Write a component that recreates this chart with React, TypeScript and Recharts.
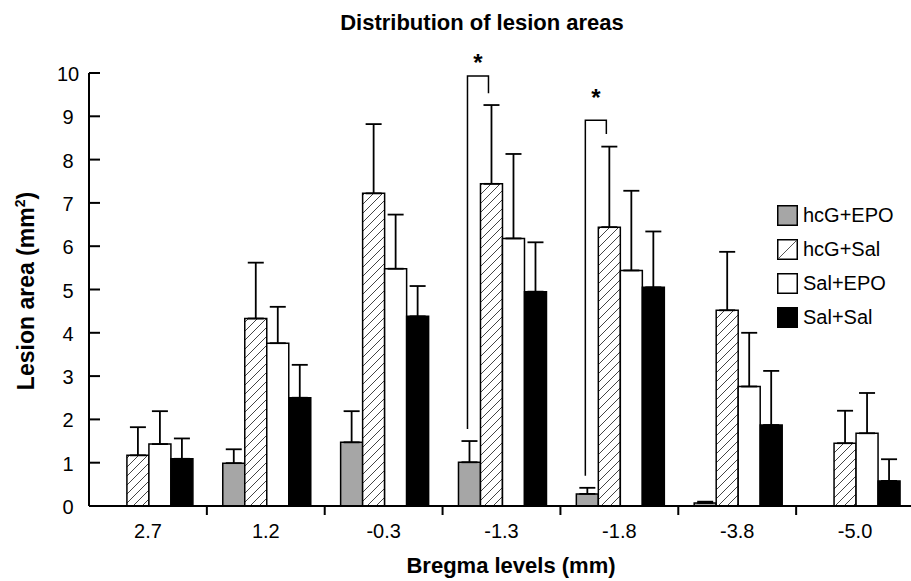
import React from "react";
import { BarChart, Bar, XAxis, YAxis, ErrorBar, Legend, LabelList } from "recharts";

// ---------- data ----------
const categories = ["2.7", "1.2", "-0.3", "-1.3", "-1.8", "-3.8", "-5.0"];
const hcgEpo = [0, 0.99, 1.47, 1.01, 0.28, 0.07, 0];
const hcgEpoErr = [0, 0.32, 0.72, 0.49, 0.14, 0.03, 0];
const hcgSal = [1.17, 4.33, 7.22, 7.44, 6.44, 4.52, 1.45];
const hcgSalErr = [0.65, 1.29, 1.6, 1.82, 1.86, 1.35, 0.75];
const salEpo = [1.43, 3.76, 5.48, 6.18, 5.44, 2.76, 1.68];
const salEpoErr = [0.76, 0.84, 1.25, 1.95, 1.84, 1.24, 0.93];
const salSal = [1.09, 2.5, 4.38, 4.95, 5.05, 1.87, 0.58];
const salSalErr = [0.47, 0.76, 0.7, 1.14, 1.29, 1.25, 0.5];
const yTicks = [0, 1, 2, 3, 4, 5, 6, 7, 8, 9, 10];

// significance brackets (hcG+EPO vs hcG+Sal)
const sigTop: (number | null)[] = [null, null, null, 9.93, 8.91, null, null];
const sigLeftBottom: (number | null)[] = [null, null, null, 1.78, 0.7, null, null];
const sigRightBottom: (number | null)[] = [null, null, null, 9.53, 8.59, null, null];
const sigStar: (number | null)[] = [null, null, null, 10.32, 9.51, null, null];

const DATA = categories.map((cat, i) => ({
  cat,
  hcgEpo: hcgEpo[i],
  hcgEpoE: [0, hcgEpoErr[i]],
  hcgSal: hcgSal[i],
  hcgSalE: [0, hcgSalErr[i]],
  salEpo: salEpo[i],
  salEpoE: [0, salEpoErr[i]],
  salSal: salSal[i],
  salSalE: [0, salSalErr[i]],
  sigTop: sigTop[i],
}));

// ---------- layout / style ----------
const CHART_W = 915;
const CHART_H = 581;
const MARGIN = { top: 73, right: 1, bottom: 15, left: 0 };
const Y_AXIS_W = 89;
const X_AXIS_H = 60;
const CAT_W = (CHART_W - MARGIN.left - MARGIN.right - Y_AXIS_W) / categories.length;
const FONT = '"Liberation Sans", Arial, Helvetica, sans-serif';

const SERIES = [
  { key: "hcgEpo", err: "hcgEpoE", name: "hcG+EPO", fill: "#a6a6a6", kind: "grey" },
  { key: "hcgSal", err: "hcgSalE", name: "hcG+Sal", fill: "url(#hatch)", kind: "hatch" },
  { key: "salEpo", err: "salEpoE", name: "Sal+EPO", fill: "#ffffff", kind: "white" },
  { key: "salSal", err: "salSalE", name: "Sal+Sal", fill: "#000000", kind: "black" },
];

const YTick = (props: any) => {
  const { x, y, payload } = props;
  return (
    <g>
      <line x1={x} y1={y} x2={x + 11} y2={y} stroke="#000" strokeWidth={2} />
      <text x={x - 21} y={y} dy={8} textAnchor="middle" fontSize={20} fontFamily={FONT} fill="#000">
        {payload.value}
      </text>
    </g>
  );
};

const XTick = (props: any) => {
  const { x, y, payload, index } = props;
  const bx = x - CAT_W / 2;
  return (
    <g>
      {index > 0 && <line x1={bx} y1={y} x2={bx} y2={y + 9} stroke="#000" strokeWidth={2} />}
      <text x={x} y={y + 32} textAnchor="middle" fontSize={20} fontFamily={FONT} fill="#000">
        {payload.value}
      </text>
    </g>
  );
};

const BracketLabel = (props: any) => {
  const vb = props.viewBox ?? props;
  const x = vb.x ?? props.x;
  const y = vb.y ?? props.y;
  const w = vb.width ?? props.width;
  const h = vb.height ?? props.height;
  if (props.value == null) return null;
  const idx = sigTop.findIndex((v) => v != null && v === props.value);
  if (idx < 0) return null;
  const val = hcgEpo[idx];
  if (!val || !h) return null;
  const ppu = h / val;
  const base = y + h;
  const py = (v: number) => base - v * ppu;
  const xl = x + w / 2 - 2;
  const xr = x + w * 1.5 - 3;
  const top = py(sigTop[idx] as number);
  return (
    <g>
      <polyline
        points={`${xl},${py(sigLeftBottom[idx] as number)} ${xl},${top} ${xr},${top} ${xr},${py(
          sigRightBottom[idx] as number
        )}`}
        fill="none"
        stroke="#000"
        strokeWidth={1.5}
      />
      <text
        x={(xl + xr) / 2}
        y={py(sigStar[idx] as number) + 12}
        textAnchor="middle"
        fontSize={24}
        fontWeight="bold"
        fontFamily={FONT}
        fill="#000"
      >
        *
      </text>
    </g>
  );
};

const Swatch = ({ kind }: { kind: string }) => {
  const fill = kind === "grey" ? "#a6a6a6" : kind === "black" ? "#000" : "#fff";
  return (
    <svg width={21} height={21} style={{ display: "block" }}>
      <rect x={0.75} y={0.75} width={19.5} height={19.5} fill={fill} stroke="#000" strokeWidth={1.5} />
      {kind === "hatch" && <line x1={2} y1={19} x2={19} y2={2} stroke="#555" strokeWidth={1} />}
    </svg>
  );
};

const LegendContent = (props: any) => {
  const payload = [...(props.payload ?? [])].sort(
    (a: any, b: any) =>
      SERIES.findIndex((s) => s.key === a.dataKey) - SERIES.findIndex((s) => s.key === b.dataKey)
  );
  return (
    <div style={{ fontFamily: FONT, fontSize: 20, color: "#000" }}>
      {payload.map((p: any) => {
        const s = SERIES.find((q) => q.key === p.dataKey) ?? SERIES[0];
        return (
          <div key={s.key} style={{ display: "flex", alignItems: "flex-start", height: 34 }}>
            <Swatch kind={s.kind} />
            <span style={{ marginLeft: 5, lineHeight: "20px", whiteSpace: "nowrap" }}>{p.value}</span>
          </div>
        );
      })}
    </div>
  );
};

export default function App() {
  return (
    <div
      style={{
        position: "absolute",
        left: 0,
        top: 0,
        width: 911,
        height: 581,
        overflow: "hidden",
        background: "#fff",
        fontFamily: FONT,
      }}
    >
      <svg width={0} height={0} style={{ position: "absolute" }}>
        <defs>
          <pattern id="hatch" patternUnits="userSpaceOnUse" width={9} height={9}>
            <rect width={9} height={9} fill="#fff" />
            <path d="M0,9 L9,0 M-2,2 L2,-2 M7,11 L11,7" stroke="#444" strokeWidth={1} />
          </pattern>
        </defs>
      </svg>
      <BarChart
        width={CHART_W}
        height={CHART_H}
        data={DATA}
        margin={MARGIN}
        barCategoryGap="13.5%"
        barGap={0}
      >
        <XAxis
          dataKey="cat"
          height={X_AXIS_H}
          axisLine={{ stroke: "#000", strokeWidth: 2 }}
          tickLine={false}
          tickSize={0}
          tickMargin={0}
          tick={<XTick />}
          interval={0}
        />
        <YAxis
          type="number"
          width={Y_AXIS_W}
          domain={[0, 10]}
          ticks={yTicks}
          interval={0}
          axisLine={{ stroke: "#000", strokeWidth: 2 }}
          tickLine={false}
          tickSize={0}
          tickMargin={0}
          tick={<YTick />}
        />
        <Legend
          layout="vertical"
          align="center"
          verticalAlign="middle"
          itemSorter={null as any}
          content={<LegendContent />}
          wrapperStyle={{ left: 777, top: 205, width: 134, height: 140, margin: 0, padding: 0 }}
        />
        {SERIES.map((s) => (
          <Bar
            key={s.key}
            dataKey={s.key}
            name={s.name}
            fill={s.fill}
            stroke="#000"
            strokeWidth={1.5}
            isAnimationActive={false}
          >
            <ErrorBar dataKey={s.err} width={8} stroke="#000" strokeWidth={1.8} direction="y" isAnimationActive={false} />
            {s.key === "hcgEpo" && <LabelList dataKey="sigTop" content={<BracketLabel />} />}
          </Bar>
        ))}
      </BarChart>
      <svg
        width={911}
        height={581}
        style={{ position: "absolute", left: 0, top: 0, pointerEvents: "none" }}
      >
        <text x={482} y={30} textAnchor="middle" fontSize={22} fontWeight="bold" fontFamily={FONT} fill="#000">
          Distribution of lesion areas
        </text>
        <text x={511} y={573} textAnchor="middle" fontSize={22} fontWeight="bold" fontFamily={FONT} fill="#000">
          Bregma levels (mm)
        </text>
        <text
          transform="translate(34,291) rotate(-90)"
          textAnchor="middle"
          fontSize={23}
          fontWeight="bold"
          fontFamily={FONT}
          fill="#000"
        >
          Lesion area (mm
          <tspan fontSize={14} dy={-9}>
            2
          </tspan>
          <tspan dy={9}>)</tspan>
        </text>
      </svg>
    </div>
  );
}
